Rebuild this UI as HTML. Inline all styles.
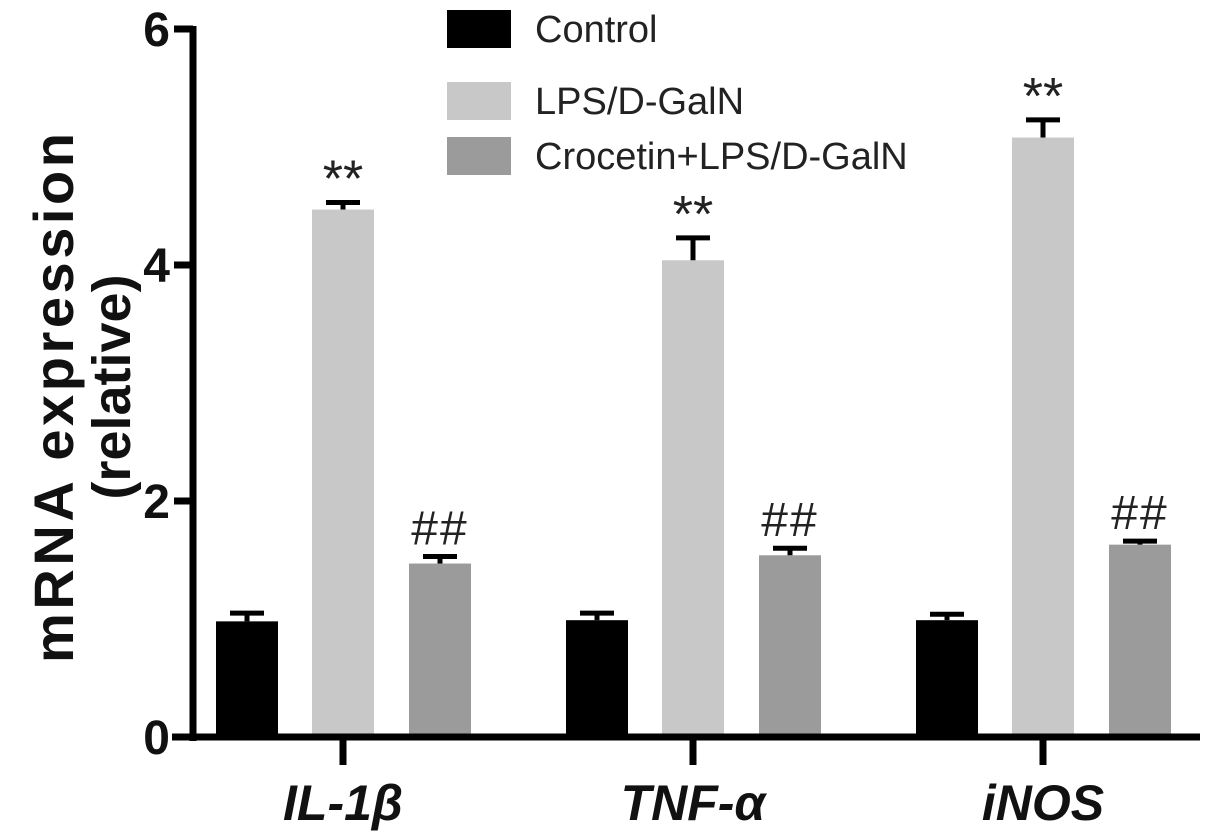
<!DOCTYPE html>
<html><head><meta charset="utf-8"><style>
html,body{margin:0;padding:0;background:#fff;}
svg{display:block;font-family:"Liberation Sans",Arial,sans-serif;}
</style></head><body>
<svg id="chart" width="1205" height="835" viewBox="0 0 1205 835">
<g id="marks"></g>
<g id="axes"></g>
</svg>
<script>
const groups = ["IL-1β", "TNF-α", "iNOS"];
const seriesNames = ["Control", "LPS/D-GalN", "Crocetin+LPS/D-GalN"];
const controlValues = [0.98, 0.99, 0.99];
const controlErrors = [0.07, 0.06, 0.05];
const lpsValues = [4.47, 4.04, 5.08];
const lpsErrors = [0.06, 0.19, 0.15];
const crocetinValues = [1.47, 1.54, 1.63];
const crocetinErrors = [0.06, 0.06, 0.03];
const lpsMarks = ["**", "**", "**"];
const crocetinMarks = ["##", "##", "##"];
const yTicks = [0, 2, 4, 6];

const NS = "http://www.w3.org/2000/svg";
const y0 = 737, yTop = 29, yMax = 6;
function yScale(v){ return y0 - (v / yMax) * (y0 - yTop); }
const groupCenters = [343, 692, 1043];
function xGroup(i){ return groupCenters[0] + i * (groupCenters[2]-groupCenters[0])/2; }
const offsets = [-96, 0, 97], barW = 62;
const colors = ["#000000", "#c8c8c8", "#9b9b9b"];
const allVals = [controlValues, lpsValues, crocetinValues];
const allErrs = [controlErrors, lpsErrors, crocetinErrors];
const marks = document.getElementById("marks");
const axes = document.getElementById("axes");
function mk(tag, attrs, parent){ const e=document.createElementNS(NS,tag); for(const k in attrs) e.setAttribute(k,attrs[k]); parent.appendChild(e); return e; }

for (let s=0;s<3;s++){
  for (let g=0;g<groups.length;g++){
    const v=allVals[s][g], er=allErrs[s][g];
    const cx=xGroup(g)+offsets[s];
    const r=mk("rect",{x:cx-barW/2,y:yScale(v),width:barW,height:y0-yScale(v),fill:colors[s]},marks);
    
    
    const eb=mk("path",{d:`M${cx} ${yScale(v)} V${yScale(v+er)} M${cx-17} ${yScale(v+er)} H${cx+17}`,stroke:"#000","stroke-width":5,fill:"none"},marks);
    
    
    if (s===1 || s===2){
      const t=mk("text",{x:cx,y:yScale(v+er)-(s===1?6:12),"text-anchor":"middle","font-size":s===1?52:48,"letter-spacing":s===1?0:2,fill:"#222"},marks);
      t.textContent = s===1 ? lpsMarks[g] : crocetinMarks[g];
      
      
    }
  }
}
const ya=mk("line",{x1:193,y1:yTop-3,x2:193,y2:y0+4,stroke:"#000","stroke-width":7},axes);


const xa=mk("line",{x1:172,y1:y0,x2:1200,y2:y0,stroke:"#000","stroke-width":7},axes);


for (const t of yTicks){
  mk("line",{x1:174,y1:yScale(t),x2:193,y2:yScale(t),stroke:"#000","stroke-width":7},axes);
  const tl=mk("text",{x:170,y:yScale(t)+17,"text-anchor":"end","font-size":48,"font-weight":"bold",fill:"#111"},axes);
  tl.textContent=t;
  
  
}
for (let g=0;g<groups.length;g++){
  mk("line",{x1:xGroup(g),y1:y0,x2:xGroup(g),y2:765,stroke:"#000","stroke-width":7},axes);
  const gl=mk("text",{x:xGroup(g),y:820,"text-anchor":"middle","font-size":50,"font-weight":"bold","font-style":"italic",fill:"#111"},axes);
  gl.textContent=groups[g];
  
  
}
const yt=mk("text",{transform:"translate(73,398) rotate(-90)","text-anchor":"middle","font-size":56,"font-weight":"bold",fill:"#111",textLength:530,lengthAdjust:"spacing"},axes);
yt.textContent="mRNA expression";


const yt2=mk("text",{transform:"translate(130,387) rotate(-90)","text-anchor":"middle","font-size":54,"font-weight":"bold",fill:"#111"},axes);
yt2.textContent="(relative)";


const legY=[28,100,155];
for (let s=0;s<3;s++){
  const lr=mk("rect",{x:447,y:legY[s]-18,width:64,height:38,fill:colors[s]},axes);
  
  
  const lt=mk("text",{x:535,y:legY[s]+14,"font-size":38,fill:"#222"},axes);
  lt.textContent=seriesNames[s];
  
  
}
</script>
</body></html>
